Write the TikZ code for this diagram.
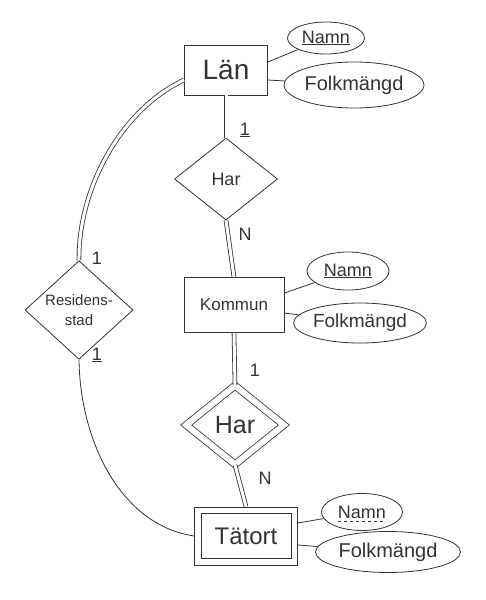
\documentclass[tikz,border=0pt]{standalone}
\usepackage{fontspec}
\setmainfont{Liberation Sans}
\usetikzlibrary{shapes.geometric}

\tikzset{
  ent/.style={draw, rectangle, inner sep=0pt},
  rel/.style={draw, diamond, inner sep=0pt},
  attr/.style={draw, ellipse, inner sep=0pt},
  dbl/.style={double, double distance=3pt},
  card/.style={font=\fontsize{18}{18}\selectfont}
}

\begin{document}
\begin{tikzpicture}[x=1pt, y=-1pt, line width=0.8pt, color=black!80]
  \useasboundingbox (0,0) rectangle (486,600);

  % entities
  \node[ent, minimum width=83pt, minimum height=50pt, font=\fontsize{28}{28}\selectfont] (lan) at (226,70) {Län};
  \node[ent, minimum width=100pt, minimum height=55pt, font=\fontsize{17}{17}\selectfont] (kommun) at (234,305) {Kommun};
  \node[ent, minimum width=103pt, minimum height=58pt, font=\fontsize{24}{24}\selectfont] (tatort) at (246,536) {Tätort};
  \draw ([shift={(7pt,-7pt)}]tatort.north west) rectangle ([shift={(-7pt,7pt)}]tatort.south east);

  % relations
  \node[rel, minimum width=103pt, minimum height=82pt, font=\fontsize{18}{18}\selectfont] (harA) at (226,179) {Har};
  \node[rel, double, double distance=6pt, minimum width=98pt, minimum height=79pt, font=\fontsize{25}{25}\selectfont] (harB) at (235,425) {Har};
  \node[rel, minimum width=108pt, minimum height=75pt, align=center, font=\fontsize{15}{20}\selectfont] (resstad) at (79,310) {Residens-\\stad};

  % attributes
  \node[attr, minimum width=77pt, minimum height=32pt, font=\fontsize{18}{18}\selectfont] (lanNamn) at (326,38) {\underline{Namn}};
  \node[attr, minimum width=118pt, minimum height=46pt, font=\fontsize{20}{20}\selectfont] (lanFolk) at (354,85) {Folkmängd};
  \node[attr, minimum width=82pt, minimum height=38pt, font=\fontsize{18}{18}\selectfont] (komNamn) at (348,271) {\underline{Namn}};
  \node[attr, minimum width=105pt, minimum height=40pt, font=\fontsize{19}{19}\selectfont] (komFolk) at (360,323) {Folkmängd};
  \node[attr, minimum width=81pt, minimum height=37pt, font=\fontsize{18}{18}\selectfont] (tatNamn) at (362,512) {Namn};
  \node[attr, minimum width=145pt, minimum height=41pt, font=\fontsize{20}{20}\selectfont] (tatFolk) at (388,552) {Folkmängd};
  \draw[dashed, line width=0.6pt] ([xshift=-24pt, yshift=-3pt]tatNamn.base) -- ([xshift=24pt, yshift=-3pt]tatNamn.base);

  % attribute links
  \draw (lan.east |- 0,62) -- (lanNamn);
  \draw (lan.east |- 0,80) -- (lanFolk);
  \draw (kommun.east |- 0,293) -- (komNamn);
  \draw (kommun.east |- 0,313) -- (komFolk);
  \draw (tatort.east |- 0,523) -- (tatNamn);
  \draw (tatort.east |- 0,545) -- (tatFolk);

  % relation links
  \draw[dbl] (lan.south) -- (harA.north);
  \draw[dbl] (harA.south) -- (kommun.north);
  \draw[dbl] (kommun.south) -- (harB.north);
  \draw[dbl] (harB.south) -- (tatort.north);
  \draw[dbl] (lan.west |- 0,80) .. controls (120,110) and (78,190) .. (resstad.north);
  \draw (resstad.south) .. controls (80,440) and (120,525) .. (tatort.west);

  % cardinalities
  \node[card] (c1) at (245,130) {\underline{1}};
  \node[card] (c2) at (245,234) {N};
  \node[card] (c3) at (255,370) {1};
  \node[card] (c4) at (265,478) {N};
  \node[card] (c5) at (97,258) {1};
  \node[card] (c6) at (97,355) {\underline{1}};
\end{tikzpicture}
\end{document}
